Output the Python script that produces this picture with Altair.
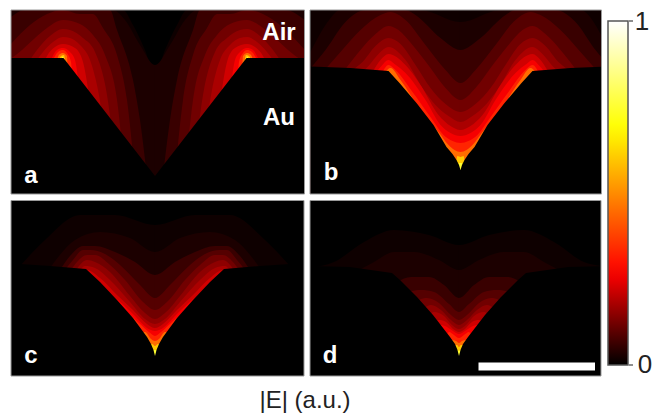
import altair as alt
import numpy as np
import pandas as pd

# Iso-levels of |E| (a.u.); each contour is half-width from the groove centre vs. image height
LEVELS = [0.015, 0.03, 0.06, 0.09, 0.12, 0.15, 0.18, 0.22, 0.26, 0.33, 0.45, 0.6, 0.75]

PANEL_NAMES = ["a", "b", "c", "d"]
PANEL_CENTRE = {"a": 155, "b": 460.5, "c": 155, "d": 459}
PANEL_LEFT = {"a": 11, "b": 310, "c": 11, "d": 310}
PANEL_RIGHT = {"a": 304.5, "b": 601.5, "c": 304, "d": 601}
PANEL_TOP = {"a": 10, "b": 10, "c": 200.5, "d": 200.5}
PANEL_BOTTOM = {"a": 194, "b": 194, "c": 376, "d": 376}

SURFACE_A = [(0, 176), (91.5, 58), (150, 58)]
SURFACE_B = [(0, 170), (1.5, 165), (4, 160), (8, 154), (14, 147), (27, 125), (44, 103), (61, 83), (72, 71), (110, 68), (150, 66.5)]
SURFACE_C = [(0, 356), (1.5, 350), (4, 344), (8, 337), (22, 318), (38, 300), (55, 282), (69, 269), (105, 266), (135, 264), (150, 264)]
SURFACE_D = [(0, 356), (1.5, 350), (4, 344), (9, 337), (26, 315), (42, 297), (59, 280), (67, 273), (109, 267), (150, 266)]

CONTOURS_A = [
    [(0, 75), (10, 50), (22, 25), (32, 10), (150, 10)],
    [(0, 65), (15, 45), (30, 20), (42, 10), (150, 10)],
    [(8, 176), (15, 120), (22, 80), (38, 30), (45, 10), (130, 10), (150, 20)],
    [(20, 176), (28, 100), (38, 55), (52, 28), (62, 14), (75, 14), (92, 10), (108, 14), (125, 25), (150, 50)],
    [(30, 176), (38, 100), (50, 55), (62, 35), (75, 24), (92, 20), (108, 28), (120, 38), (133, 50), (146, 60)],
    [(38, 176), (48, 95), (60, 52), (72, 38), (85, 30), (92, 29), (105, 36), (118, 50), (125, 60)],
    [(45, 176), (57, 90), (65, 60), (75, 45), (85, 38), (92, 37), (102, 42), (112, 52), (118, 60)],
    [(55, 176), (66, 95), (72, 62), (80, 48), (92, 44), (100, 47), (108, 56), (110, 60)],
    [(65, 176), (76, 85), (80, 60), (85, 52), (92, 48), (98, 50), (104, 60)],
    [(80, 176), (84, 62), (88, 53), (92, 50), (97, 52), (102, 60)],
    [(86, 176), (88, 56), (92, 53), (96, 55), (98, 60)],
    [(89, 70), (91, 55), (94, 56), (96, 60)],
    [(91, 62), (92, 56.5), (94, 60)],
]
CONTOURS_B = [
    [(0, 10), (150, 10)],
    [(0, 22), (40, 10), (120, 10), (135, 25), (150, 52)],
    [(0, 50), (20, 38), (45, 15), (55, 10), (95, 10), (115, 22), (135, 50), (150, 68)],
    [(0, 83), (15, 70), (35, 45), (55, 20), (70, 12), (80, 15), (100, 30), (120, 52), (135, 69)],
    [(0, 100), (15, 88), (30, 68), (48, 45), (62, 30), (72, 26), (85, 34), (100, 50), (115, 69)],
    [(0, 112), (15, 104), (30, 88), (45, 65), (60, 44), (72, 38), (85, 46), (98, 62), (108, 70)],
    [(0, 122), (12, 116), (25, 105), (38, 88), (55, 60), (72, 47), (82, 54), (92, 66), (98, 72)],
    [(0, 130), (10, 126), (22, 115), (40, 85), (55, 65), (72, 54), (80, 60), (88, 72)],
    [(0, 136), (10, 133), (20, 125), (35, 100), (55, 73), (66, 64), (72, 60), (79, 66), (84, 72)],
    [(0, 143), (8, 141), (17, 135), (28, 120), (48, 92), (65, 70), (72, 65), (78, 72)],
    [(0, 152), (6, 150), (12, 145), (22, 132), (40, 110), (60, 80), (70, 68), (75, 72)],
    [(0, 157), (3, 156), (5, 170)],
    [(0, 163), (1.5, 163), (3, 170)],
]
CONTOURS_C = [
    [(0, 225), (40, 215), (75, 215), (110, 240), (135, 266)],
    [(0, 252), (25, 238), (55, 232), (80, 240), (105, 268)],
    [(0, 275), (20, 262), (40, 252), (60, 246), (72, 246), (85, 256), (95, 270)],
    [(0, 298), (15, 285), (35, 265), (50, 254), (65, 250), (72, 250), (82, 260), (90, 270)],
    [(0, 310), (12, 302), (30, 280), (45, 265), (60, 255), (68, 255), (78, 262), (84, 270)],
    [(0, 319), (10, 313), (25, 296), (45, 272), (60, 262), (68, 260), (76, 266), (80, 272)],
    [(0, 324), (10, 319), (25, 302), (45, 280), (60, 268), (70, 266), (76, 272)],
    [(0, 328), (8, 324), (22, 310), (38, 295), (55, 278), (68, 270), (72, 272)],
    [(0, 331), (8, 328), (20, 316), (37, 300), (50, 290)],
    [(0, 336), (6, 332), (15, 324), (26, 314), (32, 310)],
    [(0, 341), (4, 339), (10, 332), (14, 332)],
    [(0, 346), (3, 344), (6, 345)],
    [(0, 350), (1.5, 350), (3, 352)],
]
CONTOURS_D = [
    [(0, 245), (30, 235), (65, 230), (95, 242), (125, 262), (150, 268)],
    [(0, 270), (20, 260), (45, 252), (65, 252), (85, 262), (100, 270)],
    [(0, 298), (15, 285), (30, 277), (48, 277), (62, 282)],
    [(0, 312), (10, 304), (25, 292), (38, 290), (50, 292), (55, 295)],
    [(0, 320), (8, 315), (20, 303), (32, 298), (40, 300), (46, 305)],
    [(0, 325), (8, 320), (18, 310), (28, 305), (35, 308)],
    [(0, 329), (7, 325), (15, 316), (25, 312), (30, 316)],
    [(0, 332), (6, 329), (13, 322), (20, 320), (24, 322)],
    [(0, 334), (6, 331), (12, 327), (18, 325), (20, 325)],
    [(0, 338), (5, 335), (10, 332), (12, 335)],
    [(0, 343), (3, 341), (7, 340)],
    [(0, 347), (2, 345), (5, 345)],
    [(0, 351), (1.5, 350), (3, 352)],
]
SURFACES = {"a": SURFACE_A, "b": SURFACE_B, "c": SURFACE_C, "d": SURFACE_D}
CONTOURS = {"a": CONTOURS_A, "b": CONTOURS_B, "c": CONTOURS_C, "d": CONTOURS_D}

COLOR_STOPS = [0, 0.27, 0.69, 1]
COLOR_RANGE = ["#000000", "#ff0000", "#ffff00", "#ffffff"]

BOLD_TEXT = ["Air", "Au", "a", "b", "c", "d"]
BOLD_X = [279, 279, 31, 331, 31, 330]
BOLD_Y = [40, 125, 183, 180, 363, 363]
AXIS_TEXT = ["|E| (a.u.)"]
AXIS_X = [305]
AXIS_Y = [408]
BAR_LABELS = ["1", "0"]
BAR_LABEL_X = [642, 645]
BAR_LABEL_Y = [30, 373]

SCALE_BAR = {"x": 478.5, "x2": 595, "y": 362.5, "y2": 370.5}
BAR_TICKS_Y = [21, 365]
BAR_TICK_X = (629, 633)
SEAM = 0.6  # the left and right halves overlap slightly at the groove centre


def half(points, dmax, side):
    d = [p[0] for p in points]
    y = [p[1] for p in points]
    kept = [p for p in points if p[0] <= dmax]
    if d[-1] > dmax:
        kept.append((dmax, float(np.interp(dmax, d, y))))
    if d[0] == 0:
        kept.insert(0, (-SEAM, y[0]))
    return kept[::-1] if side < 0 else kept


band_rows, au_rows = [], []
for p in PANEL_NAMES:
    c = PANEL_CENTRE[p]
    reach = {-1: c - PANEL_LEFT[p], 1: PANEL_RIGHT[p] - c}
    for i in range(len(LEVELS)):
        for side in (-1, 1):
            for d, y in half(CONTOURS[p][i], reach[side], side):
                band_rows.append(dict(band=f"{p}{side}{i:02d}", level=LEVELS[i], x=c + side * d, y=y, y2=PANEL_BOTTOM[p]))
    for side in (-1, 1):
        for d, y in half(SURFACES[p], reach[side], side):
            au_rows.append(dict(part=f"{p}{side}", x=c + side * d, y=y, y2=PANEL_BOTTOM[p]))

bands = pd.DataFrame(band_rows)
au = pd.DataFrame(au_rows)
panels = pd.DataFrame(dict(
    x=[PANEL_LEFT[p] for p in PANEL_NAMES], x2=[PANEL_RIGHT[p] for p in PANEL_NAMES],
    y=[PANEL_TOP[p] for p in PANEL_NAMES], y2=[PANEL_BOTTOM[p] for p in PANEL_NAMES]))

X = alt.X("x:Q", scale=alt.Scale(domain=[8, 653], nice=False, zero=False), axis=None)
Y = alt.Y("y:Q", scale=alt.Scale(domain=[413, 8], nice=False, zero=False), axis=None)

base = alt.Chart(panels).mark_rect(color="black").encode(x=X, x2="x2:Q", y=Y, y2="y2:Q")

glow = alt.Chart(bands).mark_area(orient="vertical", interpolate="monotone").encode(
    x=X, y=Y, y2="y2:Q",
    detail="band:N",
    color=alt.Color(
        "level:Q",
        scale=alt.Scale(domain=COLOR_STOPS, range=COLOR_RANGE, interpolate="rgb"),
        legend=alt.Legend(
            title=None, orient="none", legendX=600, legendY=13,
            direction="vertical", gradientLength=344, gradientThickness=20,
            gradientStrokeColor="#555555", gradientStrokeWidth=1.5,
            values=[0, 1], format=".0f", labelOpacity=0,
        ),
    ),
)

metal = alt.Chart(au).mark_area(orient="vertical", color="black", interpolate="linear").encode(
    x=X, y=Y, y2="y2:Q", detail="part:N")

frame = alt.Chart(panels).mark_rect(fill="transparent", stroke="#999999", strokeWidth=1).encode(
    x=X, x2="x2:Q", y=Y, y2="y2:Q")

bar = alt.Chart(pd.DataFrame([SCALE_BAR])).mark_rect(color="white").encode(
    x=X, x2="x2:Q", y=Y, y2="y2:Q")

ticks = alt.Chart(pd.DataFrame(dict(y=BAR_TICKS_Y, x=[BAR_TICK_X[0]] * 2, x2=[BAR_TICK_X[1]] * 2))).mark_rule(
    color="#444444", strokeWidth=1.2).encode(x=X, x2="x2:Q", y=Y)

bold_text = alt.Chart(pd.DataFrame(dict(t=BOLD_TEXT, x=BOLD_X, y=BOLD_Y))).mark_text(
    font="Liberation Sans", fontSize=24, fontWeight="bold", color="white", align="center", baseline="alphabetic"
).encode(x=X, y=Y, text="t:N")

axis_text = alt.Chart(pd.DataFrame(dict(t=AXIS_TEXT, x=AXIS_X, y=AXIS_Y))).mark_text(
    font="Liberation Sans", fontSize=24, color="#222222", align="center", baseline="alphabetic"
).encode(x=X, y=Y, text="t:N")

bar_text = alt.Chart(pd.DataFrame(dict(t=BAR_LABELS, x=BAR_LABEL_X, y=BAR_LABEL_Y))).mark_text(
    font="Liberation Sans", fontSize=26, color="#222222", align="center", baseline="alphabetic"
).encode(x=X, y=Y, text="t:N")

chart = alt.layer(base, glow, metal, frame, bar, ticks, bold_text, axis_text, bar_text).properties(
    width=645, height=405, padding=0, background="white",
    autosize=alt.AutoSizeParams(type="fit", contains="padding"),
).configure_view(stroke=None)

chart.save("out.html", embed_options={"renderer": "svg", "actions": False})
